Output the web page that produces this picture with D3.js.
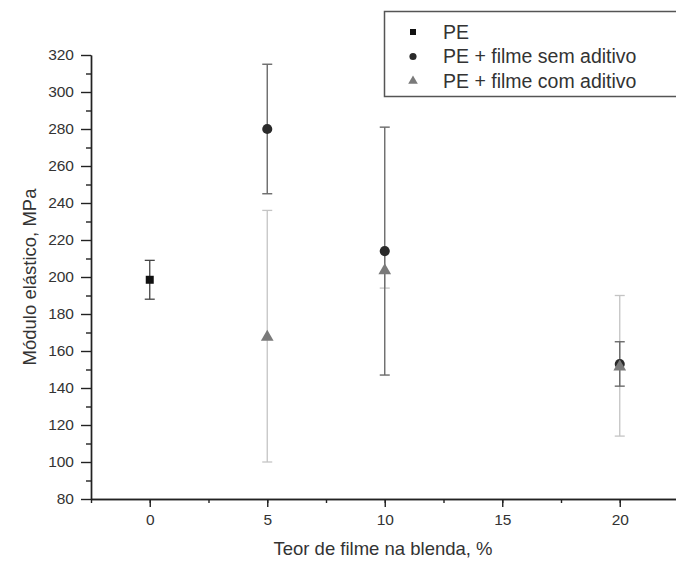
<!DOCTYPE html>
<html>
<head>
<meta charset="utf-8">
<script src="https://cdn.jsdelivr.net/npm/d3@7"></script>
<style>
  body { margin: 0; background: #fff; }
  svg { display: block; font-family: "Liberation Sans", Arial, sans-serif; }
</style>
</head>
<body>
<div id="wrapper"></div>
<script>
// data
const xTicks = [0, 5, 10, 15, 20];
const yTicks = [80, 100, 120, 140, 160, 180, 200, 220, 240, 260, 280, 300, 320];

const peX = [0];
const peY = [198.5];
const peErr = [10.5];

const semX = [5, 10, 20];
const semY = [280, 214, 153];
const semErr = [35, 67, 12];

const comX = [5, 10, 20];
const comY = [168, 204, 152];
const comErr = [68, 10, 38];

const legendLabels = ["PE", "PE + filme sem aditivo", "PE + filme com aditivo"];

const drawChart = () => {
  const width = 676;
  const height = 565;

  const svg = d3.select("#wrapper")
    .append("svg")
    .attr("width", width)
    .attr("height", height);

  // scales
  const xScale = d3.scaleLinear()
    .domain([-2.5, 22.5])
    .range([91, 678.5]);

  const yScale = d3.scaleLinear()
    .domain([80, 320])
    .range([499, 55]);

  // axes (major + minor ticks)
  svg.append("g")
    .attr("transform", `translate(0, ${yScale(80)})`)
    .call(d3.axisBottom(xScale).tickValues(xTicks).tickSize(8).tickSizeOuter(0).tickPadding(7));
  svg.append("g")
    .attr("transform", `translate(0, ${yScale(80)})`)
    .call(d3.axisBottom(xScale).tickValues(d3.range(-2.5, 22.6, 2.5)).tickSize(4).tickFormat("").tickSizeOuter(0));

  svg.append("g")
    .attr("transform", `translate(${xScale(-2.5)}, 0)`)
    .call(d3.axisLeft(yScale).tickValues(yTicks).tickSize(10).tickSizeOuter(0).tickPadding(7));
  svg.append("g")
    .attr("transform", `translate(${xScale(-2.5)}, 0)`)
    .call(d3.axisLeft(yScale).tickValues(d3.range(90, 320, 20)).tickSize(5).tickFormat("").tickSizeOuter(0));

  svg.selectAll(".domain, .tick line").attr("stroke", "#222").attr("stroke-width", 1.4);
  svg.selectAll(".tick text").attr("font-size", 15.5).attr("fill", "#333")
    .attr("font-family", "Liberation Sans, Arial, sans-serif");

  // axis titles
  svg.append("text")
    .attr("x", 383)
    .attr("y", 555)
    .attr("text-anchor", "middle")
    .attr("font-size", 18.5)
    .attr("fill", "#333")
    .text("Teor de filme na blenda, %");

  svg.append("text")
    .attr("transform", `translate(36, ${yScale(200)}) rotate(-90)`)
    .attr("text-anchor", "middle")
    .attr("font-size", 18.5)
    .attr("fill", "#333")
    .text("Módulo elástico, MPa");

  // error bars
  const drawErr = (xs, ys, es, color, w) => {
    const g = svg.append("g").attr("stroke", color).attr("stroke-width", w);
    xs.forEach((x, i) => {
      const cx = xScale(x);
      const top = yScale(ys[i] + es[i]);
      const bot = yScale(ys[i] - es[i]);
      g.append("line").attr("x1", cx).attr("x2", cx).attr("y1", top).attr("y2", bot);
      g.append("line").attr("x1", cx - 5).attr("x2", cx + 5).attr("y1", top).attr("y2", top);
      g.append("line").attr("x1", cx - 5).attr("x2", cx + 5).attr("y1", bot).attr("y2", bot);
    });
  };

  drawErr(comX, comY, comErr, "#c4c4c4", 1.3);
  drawErr(semX, semY, semErr, "#6a6a6a", 1.4);
  drawErr(peX, peY, peErr, "#444", 1.3);

  // markers
  const sq = d3.symbol().type(d3.symbolSquare).size(64);
  const ci = d3.symbol().type(d3.symbolCircle).size(80);
  const tr = d3.symbol().type(d3.symbolTriangle).size(70);

  svg.append("g").selectAll("path")
    .data(peX)
    .join("path")
    .attr("d", sq)
    .attr("transform", (d, i) => `translate(${xScale(d)}, ${yScale(peY[i])})`)
    .attr("fill", "#111");

  svg.append("g").selectAll("path")
    .data(semX)
    .join("path")
    .attr("d", ci)
    .attr("transform", (d, i) => `translate(${xScale(d)}, ${yScale(semY[i])})`)
    .attr("fill", "#2a2a2a");

  svg.append("g").selectAll("path")
    .data(comX)
    .join("path")
    .attr("d", tr)
    .attr("transform", (d, i) => `translate(${xScale(d)}, ${yScale(comY[i]) + 1})`)
    .attr("fill", "#7a7a7a");

  // legend
  const legend = svg.append("g");
  legend.append("rect")
    .attr("x", 384.5)
    .attr("y", 11.5)
    .attr("width", 300)
    .attr("height", 85)
    .attr("fill", "#fff")
    .attr("stroke", "#555")
    .attr("stroke-width", 1.5);

  const fills = ["#111", "#2a2a2a", "#7a7a7a"];
  const sizes = [36, 40, 40];
  legendLabels.forEach((label, i) => {
    const ly = 32 + i * 24.5;
    legend.append("path")
      .attr("d", d3.symbol().type([d3.symbolSquare, d3.symbolCircle, d3.symbolTriangle][i]).size(sizes[i]))
      .attr("transform", `translate(413, ${ly})`)
      .attr("fill", fills[i]);
    legend.append("text")
      .attr("x", 443)
      .attr("y", ly + 6.5)
      .attr("font-size", 19.5)
      .attr("fill", "#333")
      .text(label);
  });
};

drawChart();
</script>
</body>
</html>
